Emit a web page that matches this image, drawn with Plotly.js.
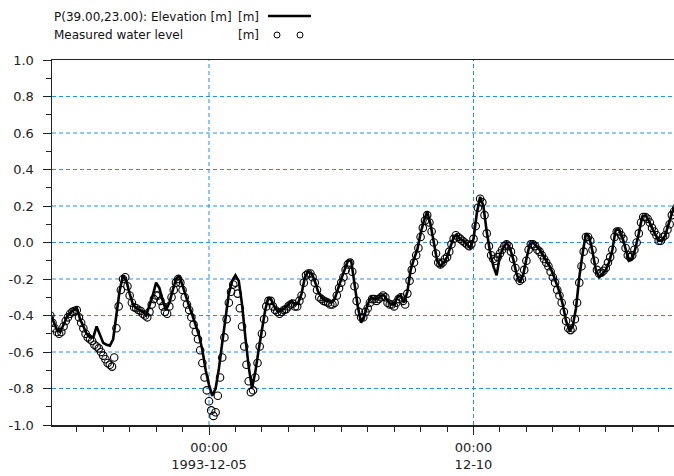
<!DOCTYPE html>
<html>
<head>
<meta charset="utf-8">
<script src="https://cdn.plot.ly/plotly-3.0.1.min.js"></script>
<style>html,body{margin:0;padding:0;background:#fff;}#chart{width:674px;height:476px;}</style>
</head>
<body>
<div id="chart"></div>
<script>
// Model curve sample times, hours relative to 1993-12-05 00:00
const hoursFrom1205 = [
  -72,-70.5,-69,-67.5,-66,-64.5,-63,-61.5,-60,-58.5,
  -57,-55.5,-54,-52.5,-51,-49.5,-48,-46.5,-45,-43.5,
  -42,-40.5,-39,-37.5,-36,-34.5,-33,-31.5,-30,-28.5,
  -27,-25.5,-24,-22.5,-21,-19.5,-18,-16.5,-15,-13.5,
  -12,-10.5,-9,-7.5,-6,-4.5,-3,-1.5,0,1.5,
  3,4.5,6,7.5,9,10.5,12,13.5,15,16.5,
  18,19.5,21,22.5,24,25.5,27,28.5,30,31.5,
  33,34.5,36,37.5,39,40.5,42,43.5,45,46.5,
  48,49.5,51,52.5,54,55.5,57,58.5,60,61.5,
  63,64.5,66,67.5,69,70.5,72,73.5,75,76.5,
  78,79.5,81,82.5,84,85.5,87,88.5,90,91.5,
  93,94.5,96,97.5,99,100.5,102,103.5,105,106.5,
  108,109.5,111,112.5,114,115.5,117,118.5,120,121.5,
  123,124.5,126,127.5,129,130.5,132,133.5,135,136.5,
  138,139.5,141,142.5,144,145.5,147,148.5,150,151.5,
  153,154.5,156,157.5,159,160.5,162,163.5,165,166.5,
  168,169.5,171,172.5,174,175.5,177,178.5,180,181.5,
  183,184.5,186,187.5,189,190.5,192,193.5,195,196.5,
  198,199.5,201,202.5,204,205.5,207,208.5,210,211.5,
  213];

// P(39.00,23.00): Elevation [m]
const elevation = [
  -0.39,-0.44,-0.48,-0.49,-0.45,-0.41,-0.385,-0.37,-0.36,-0.42,
  -0.46,-0.50,-0.52,-0.52,-0.46,-0.50,-0.55,-0.56,-0.565,-0.53,
  -0.40,-0.26,-0.18,-0.21,-0.28,-0.34,-0.36,-0.37,-0.38,-0.40,
  -0.35,-0.29,-0.22,-0.25,-0.32,-0.37,-0.33,-0.26,-0.20,-0.18,
  -0.24,-0.30,-0.35,-0.40,-0.45,-0.51,-0.59,-0.70,-0.78,-0.84,
  -0.80,-0.69,-0.55,-0.42,-0.28,-0.21,-0.18,-0.21,-0.34,-0.52,
  -0.68,-0.80,-0.71,-0.59,-0.475,-0.37,-0.30,-0.32,-0.36,-0.38,
  -0.37,-0.36,-0.34,-0.32,-0.34,-0.33,-0.28,-0.19,-0.16,-0.17,
  -0.21,-0.27,-0.30,-0.32,-0.32,-0.33,-0.31,-0.25,-0.20,-0.15,
  -0.10,-0.10,-0.22,-0.35,-0.44,-0.40,-0.34,-0.30,-0.31,-0.31,
  -0.29,-0.29,-0.32,-0.34,-0.34,-0.30,-0.29,-0.33,-0.27,-0.15,
  -0.09,-0.04,0.05,0.12,0.17,0.10,0.00,-0.10,-0.13,-0.11,
  -0.08,-0.03,0.03,0.04,0.02,0.01,-0.01,-0.03,0.02,0.16,
  0.25,0.20,0.06,-0.05,-0.13,-0.18,-0.07,-0.03,0.00,-0.03,
  -0.09,-0.17,-0.22,-0.18,-0.09,-0.01,0.00,-0.02,-0.04,-0.07,
  -0.10,-0.13,-0.17,-0.22,-0.27,-0.34,-0.43,-0.48,-0.46,-0.36,
  -0.19,-0.06,0.05,0.03,-0.05,-0.15,-0.19,-0.17,-0.15,-0.11,
  -0.04,0.07,0.07,0.03,-0.04,-0.10,-0.09,-0.03,0.05,0.14,
  0.15,0.12,0.08,0.04,0.01,0.01,0.04,0.10,0.16,0.20,
  0.24];

// Measurement times (hourly), hours relative to 1993-12-05 00:00
const measHoursFrom1205 = [
  -72,-71,-70,-69,-68,-67,-66,-65,-64,-63,
  -62,-61,-60,-59,-58,-57,-56,-55,-54,-53,
  -52,-51,-50,-49,-48,-47,-46,-45,-44,-43,
  -42,-41,-40,-39,-38,-37,-36,-35,-34,-33,
  -32,-31,-30,-29,-28,-27,-26,-25,-24,-23,
  -22,-21,-20,-19,-18,-17,-16,-15,-14,-13,
  -12,-11,-10,-9,-8,-7,-6,-5,-4,-3,
  -2,-1,0,1,2,3,4,5,6,7,
  8,9,10,11,12,13,14,15,16,17,
  18,19,20,21,22,23,24,25,26,27,
  28,29,30,31,32,33,34,35,36,37,
  38,39,40,41,42,43,44,45,46,47,
  48,49,50,51,52,53,54,55,56,57,
  58,59,60,61,62,63,64,65,66,67,
  68,69,70,71,72,73,74,75,76,77,
  78,79,80,81,82,83,84,85,86,87,
  88,89,90,91,92,93,94,95,96,97,
  98,99,100,101,102,103,104,105,106,107,
  108,109,110,111,112,113,114,115,116,117,
  118,119,120,121,122,123,124,125,126,127,
  128,129,130,131,132,133,134,135,136,137,
  138,139,140,141,142,143,144,145,146,147,
  148,149,150,151,152,153,154,155,156,157,
  158,159,160,161,162,163,164,165,166,167,
  168,169,170,171,172,173,174,175,176,177,
  178,179,180,181,182,183,184,185,186,187,
  188,189,190,191,192,193,194,195,196,197,
  198,199,200,201,202,203,204,205,206,207,
  208,209,210,211,212,213];

// Measured water level [m]
const measured = [
  -0.40,-0.44,-0.47,-0.49,-0.50,-0.49,-0.46,-0.43,-0.41,-0.39,
  -0.38,-0.375,-0.37,-0.41,-0.44,-0.47,-0.50,-0.52,-0.53,-0.54,
  -0.56,-0.57,-0.58,-0.60,-0.62,-0.64,-0.66,-0.67,-0.68,-0.63,
  -0.47,-0.35,-0.26,-0.20,-0.19,-0.24,-0.29,-0.33,-0.355,-0.36,
  -0.37,-0.375,-0.39,-0.40,-0.41,-0.38,-0.34,-0.31,-0.29,-0.29,
  -0.32,-0.35,-0.38,-0.39,-0.35,-0.30,-0.26,-0.22,-0.20,-0.22,
  -0.26,-0.30,-0.34,-0.37,-0.41,-0.45,-0.49,-0.53,-0.59,-0.66,
  -0.74,-0.81,-0.87,-0.92,-0.95,-0.93,-0.84,-0.74,-0.63,-0.52,
  -0.42,-0.33,-0.27,-0.23,-0.22,-0.28,-0.36,-0.46,-0.57,-0.67,
  -0.76,-0.82,-0.81,-0.74,-0.66,-0.57,-0.50,-0.42,-0.35,-0.32,
  -0.32,-0.35,-0.37,-0.38,-0.39,-0.38,-0.37,-0.365,-0.35,-0.34,
  -0.335,-0.35,-0.35,-0.32,-0.29,-0.22,-0.18,-0.17,-0.17,-0.19,
  -0.22,-0.26,-0.30,-0.31,-0.32,-0.325,-0.33,-0.34,-0.34,-0.33,
  -0.29,-0.25,-0.22,-0.19,-0.15,-0.12,-0.11,-0.16,-0.24,-0.32,
  -0.38,-0.41,-0.41,-0.38,-0.36,-0.33,-0.31,-0.31,-0.32,-0.31,
  -0.30,-0.29,-0.30,-0.33,-0.34,-0.34,-0.35,-0.33,-0.31,-0.30,
  -0.32,-0.34,-0.28,-0.21,-0.15,-0.11,-0.07,-0.03,0.03,0.08,
  0.12,0.15,0.11,0.06,0.00,-0.06,-0.11,-0.12,-0.11,-0.09,
  -0.08,-0.05,-0.01,0.02,0.04,0.03,0.02,0.01,0.00,-0.01,
  -0.02,-0.01,0.02,0.09,0.19,0.24,0.22,0.15,0.05,-0.02,
  -0.07,-0.09,-0.10,-0.08,-0.06,-0.04,-0.02,-0.01,-0.02,-0.05,
  -0.09,-0.14,-0.19,-0.21,-0.20,-0.15,-0.10,-0.04,-0.01,-0.01,
  -0.02,-0.04,-0.05,-0.07,-0.09,-0.11,-0.13,-0.16,-0.19,-0.22,
  -0.26,-0.29,-0.33,-0.38,-0.43,-0.47,-0.48,-0.47,-0.42,-0.33,
  -0.22,-0.13,-0.05,0.03,0.03,0.01,-0.04,-0.10,-0.15,-0.17,
  -0.165,-0.155,-0.14,-0.11,-0.08,-0.04,0.03,0.06,0.06,0.04,
  0.02,-0.03,-0.07,-0.08,-0.07,-0.04,0.00,0.05,0.11,0.14,
  0.14,0.13,0.11,0.08,0.06,0.04,0.01,0.01,0.03,0.04,
  0.07,0.10,0.15,0.17,0.19,0.22];

const xTickVals = ['1993-12-05 00:00', '1993-12-10 00:00'];
const xTickText = ['00:00<br>1993-12-05', '00:00<br>12-10'];
const yTickVals = [-1.0,-0.8,-0.6,-0.4,-0.2,0.0,0.2,0.4,0.6,0.8,1.0];
const yTickText = ['-1.0','-0.8','-0.6','-0.4','-0.2','0.0','0.2','0.4','0.6','0.8','1.0'];

const base = Date.UTC(1993, 11, 5, 0, 0, 0);
function toDate(h) {
  return new Date(base + h * 3600000).toISOString().replace('T', ' ').slice(0, 19);
}
const times = hoursFrom1205.map(toDate);
const measTimes = measHoursFrom1205.map(toDate);

const font = {family: 'DejaVu Sans, Verdana, sans-serif', size: 13, color: '#222'};
const gridBlue = '#1e8fff';

const traces = [
  {x: times, y: elevation, type: 'scatter', mode: 'lines',
   line: {color: '#000', width: 2.6}, name: 'P(39.00,23.00): Elevation [m]', showlegend: false},
  {x: measTimes, y: measured, type: 'scatter', mode: 'markers',
   marker: {symbol: 'circle-open', size: 7.5, color: '#000', line: {width: 1.1, color: '#000'}},
   name: 'Measured water level', showlegend: false}
];

function px(x) { return (x - 52) / 622; }
function py(y) { return (425 - y) / 365; }

const legendFont = {family: 'DejaVu Sans, Verdana, sans-serif', size: 12, color: '#111'};

// Grid lines as dashed shapes at the tick positions
const gridShapes = [];
yTickVals.forEach(v => {
  if (v > -1 && v < 1) {
    gridShapes.push({type: 'line', layer: 'below', xref: 'paper', yref: 'y', x0: 0, x1: 1, y0: v, y1: v,
      line: {color: gridBlue, width: 1, dash: '4px,3px'}});
  }
});
xTickVals.forEach(t => {
  gridShapes.push({type: 'line', layer: 'below', xref: 'x', yref: 'paper', x0: t, x1: t, y0: 0, y1: 1,
    line: {color: gridBlue, width: 1, dash: '4px,3px'}});
});

const layout = {
  width: 674, height: 476,
  margin: {l: 52, r: 0, t: 60, b: 51},
  paper_bgcolor: '#fff', plot_bgcolor: '#fff',
  font: font,
  showlegend: false,
  xaxis: {
    type: 'date',
    range: ['1993-12-02 00:46', '1993-12-13 18:58'],
    tickmode: 'array', tickvals: xTickVals, ticktext: xTickText,
    ticks: 'outside', ticklen: 8, tickwidth: 1, tickcolor: '#222',
    ticklabelstandoff: 2,
    showgrid: false,
    showline: true, linecolor: '#222', linewidth: 1.5, mirror: true,
    zeroline: false,
    minor: {tick0: '1993-12-05 00:00', dtick: 43200000, ticks: 'outside', ticklen: 5, tickcolor: '#222', showgrid: false},
    tickfont: font
  },
  yaxis: {
    range: [-1, 1],
    tickmode: 'array', tickvals: yTickVals, ticktext: yTickText,
    ticks: 'outside', ticklen: 8, tickwidth: 1, tickcolor: '#222',
    ticklabelstandoff: 6,
    showgrid: false,
    showline: true, linecolor: '#222', linewidth: 1.5,
    zeroline: false,
    minor: {tick0: 0, dtick: 0.1, ticks: 'outside', ticklen: 5, tickcolor: '#222', showgrid: false},
    tickfont: font
  },
  annotations: [
    {xref: 'paper', yref: 'paper', x: px(52), y: py(17), xanchor: 'left', yanchor: 'middle',
     text: 'P(39.00,23.00): Elevation [m]', showarrow: false, font: legendFont},
    {xref: 'paper', yref: 'paper', x: px(236), y: py(17), xanchor: 'left', yanchor: 'middle',
     text: '[m]', showarrow: false, font: legendFont},
    {xref: 'paper', yref: 'paper', x: px(52), y: py(35), xanchor: 'left', yanchor: 'middle',
     text: 'Measured water level', showarrow: false, font: legendFont},
    {xref: 'paper', yref: 'paper', x: px(236), y: py(35), xanchor: 'left', yanchor: 'middle',
     text: '[m]', showarrow: false, font: legendFont}
  ],
  shapes: gridShapes.concat([
    {type: 'line', xref: 'paper', yref: 'paper', x0: px(268), x1: px(311), y0: py(16), y1: py(16),
     line: {color: '#000', width: 2.5}},
    {type: 'circle', xref: 'paper', yref: 'paper', x0: px(274), x1: px(280), y0: py(38), y1: py(32),
     line: {color: '#000', width: 1}},
    {type: 'circle', xref: 'paper', yref: 'paper', x0: px(297), x1: px(303), y0: py(38), y1: py(32),
     line: {color: '#000', width: 1}}
  ])
};

Plotly.newPlot('chart', traces, layout, {displayModeBar: false, staticPlot: true});
</script>
</body>
</html>
